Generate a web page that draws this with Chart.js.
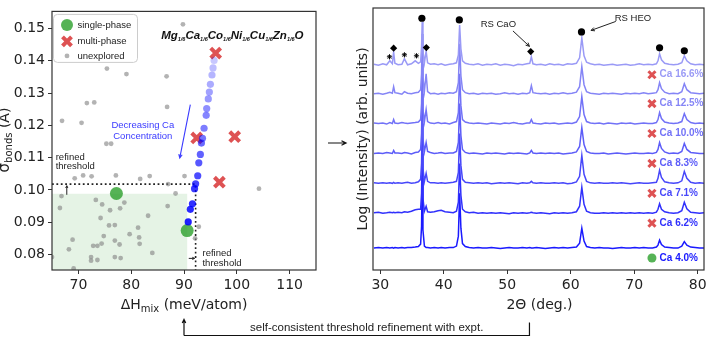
<!DOCTYPE html>
<html>
<head>
<meta charset="utf-8">
<script src="https://cdn.jsdelivr.net/npm/chart.js@4.4.1/dist/chart.umd.min.js"></script>
<style>
  html, body { margin: 0; padding: 0; background: #fff; }
  #wrap { position: relative; width: 720px; height: 349px; }
  canvas { position: absolute; left: 0; top: 0; }
</style>
</head>
<body>
<div id="wrap">
  <canvas id="chart-map" width="720" height="349"></canvas>
  <canvas id="chart-xrd" width="720" height="349"></canvas>
</div>
<script>
// ---------- left panel: enthalpy vs bond-length spread ----------
const unexploredH = [89.8, 75.4, 79.1, 86.7, 71.6, 73.0, 86.8, 66.9, 70.6, 75.3, 76.2, 69.3, 70.9, 72.5,
  77.1, 81.7, 83.5, 87.0, 90.1, 66.8, 88.4, 66.5, 73.3, 74.5, 78.7, 76.0, 77.9, 86.9, 74.2, 83.2,
  75.8, 76.9, 81.3, 79.7, 74.8, 81.5, 68.9, 76.9, 74.4, 72.8, 73.6, 77.8, 81.6, 68.2, 84.0, 65.0,
  72.4, 76.9, 78.0, 72.4, 73.6, 69.1, 104.2, 92.8, 92.1];
const unexploredS = [0.1513, 0.1376, 0.1359, 0.1352, 0.1269, 0.1271, 0.1257, 0.1214, 0.1208, 0.1143, 0.1143, 0.1036, 0.1045, 0.1042,
  0.1045, 0.1034, 0.1043, 0.1018, 0.1043, 0.0981, 0.0989, 0.0944, 0.0969, 0.0955, 0.0961, 0.0937, 0.0943, 0.0950, 0.0913, 0.0920,
  0.0890, 0.0891, 0.0883, 0.0863, 0.0857, 0.0853, 0.0846, 0.0843, 0.0834, 0.0827, 0.0827, 0.0831, 0.0833, 0.0816, 0.0805, 0.0792,
  0.0792, 0.0792, 0.0789, 0.0781, 0.0783, 0.0757, 0.1004, 0.0886, 0.0850];

// Ca series, highest Ca first
const caSeriesH = [95.7, 95.5, 95.3, 95.0, 94.8, 94.6, 94.3, 94.2, 93.8, 93.5, 93.3, 93.1, 92.8, 92.6, 92.2, 92.0, 91.6, 91.2, 90.8];
const caSeriesS = [0.1401, 0.1378, 0.1356, 0.1327, 0.1303, 0.1282, 0.1252, 0.1231, 0.1191, 0.1160, 0.1145, 0.1110, 0.1084, 0.1044, 0.1019, 0.1004, 0.0957, 0.0940, 0.0901];

const multiH = [96.0, 92.4, 99.6, 96.7];
const multiS = [0.1424, 0.1161, 0.1165, 0.1024];
const singleH = [77.2, 90.6];
const singleS = [0.0989, 0.0874];

const xTicksL = [70, 80, 90, 100, 110];
const yTicksL = [0.08, 0.09, 0.10, 0.11, 0.12, 0.13, 0.14, 0.15];
const thresholdH = 92.2, thresholdS = 0.1018;
const zoneH = 90.6, zoneS = 0.0988;

// ---------- right panel: XRD patterns ----------
const twoTheta = [
  29.0, 29.7, 30.4, 31.0, 31.5, 31.9, 32.1, 32.3,
  32.8, 33.4, 33.8, 34.3, 34.9, 35.5, 36.0, 36.35,
  36.5, 36.6, 36.72, 36.95, 37.22, 37.45, 37.9, 38.5,
  39.1, 39.6, 40.2, 40.9, 41.5, 42.0, 42.3, 42.5,
  42.7, 42.95, 43.4, 44.0, 44.7, 45.4, 46.1, 46.8,
  47.5, 48.2, 48.9, 49.6, 50.3, 51.0, 51.7, 52.4,
  53.1, 53.55, 53.8, 54.05, 54.6, 55.3, 56.0, 56.7,
  57.4, 58.1, 58.8, 59.5, 60.2, 60.9, 61.4, 61.75,
  62.1, 62.5, 63.1, 63.8, 64.5, 65.2, 65.9, 66.6,
  67.3, 68.0, 68.7, 69.4, 70.1, 70.8, 71.5, 72.2,
  72.9, 73.5, 73.75, 74.0, 74.3, 74.8, 75.5, 76.2,
  76.9, 77.5, 77.9, 78.3, 78.9, 79.6, 80.3, 81.0
];
const ca166 = [
  0.5, -0.5, 1, 0, 4, 1, 13, 1.5,
  0, 0.5, 6, 0, 1, 4, 1.5, 3,
  18, 43, 14, 2, 14, 2, 0.5, 1,
  0, 1, -0.5, 0.5, 1, 2, 10, 40,
  16, 4, 1.5, 0.5, 0, 1, -0.5, 0.5,
  0, 1, -0.5, 0.5, 0, -1, 0.5, 0,
  1, 1.5, 8, 1, 0, 0.5, -0.5, 1,
  0, 0.5, -0.5, 1, 0.5, 1.5, 7, 27,
  9, 2.5, 1, 0, 0.5, -0.5, 0, 0.5,
  -0.5, 0, 0.5, -0.5, 0, 1, 0, 0.5,
  0, 1, 4, 11, 5, 1.5, 0.5, 0,
  0.5, 2, 9, 4, 1, 0, 0.5, 0
];
const ca125 = [
  0, 0.5, -0.5, 0.5, 1.5, 0.5, 7, 1,
  0.5, -0.5, 2, 0.5, 0, 1, 1.5, 4,
  20, 60, 16, 2.5, 20, 2, 0, 0.5,
  -0.5, 0.5, 0, 1, 0.5, 2, 11, 50,
  18, 4, 1, 0, 0.5, -0.5, 0.5, 0,
  0.5, -0.5, 0, 1, 0, 0.5, -0.5, 0.5,
  0, 1, 8, 1, 0.5, 0, 0.5, -0.5,
  0.5, 0, 1, 0, 0.5, 1.5, 7, 27,
  9, 2, 0.5, 0, -0.5, 0.5, 0, 0.5,
  0, -0.5, 0.5, 0, 0.5, 0, 1, 0,
  0.5, 1, 4, 11, 5, 1.5, 0, 0.5,
  0, 2, 10, 4, 1, 0.5, 0, 0.5
];
const ca100 = [
  0.5, 0, 0.5, -0.5, 1, 0, 4, 0.5,
  0, 1, 0.5, 0, 0.5, 1, 1.5, 4,
  20, 60, 15, 2, 14, 2, 0.5, 0,
  1, 0, 0.5, -0.5, 1, 2, 11, 50,
  18, 4, 1.5, 0.5, 0, 0.5, 0, -0.5,
  0.5, 0, -0.5, 0.5, 0, 1, 0, -0.5,
  0.5, 0.5, 4, 0.5, 0, -0.5, 0.5, 0,
  0.5, -0.5, 0, 0.5, 0, 1.5, 7, 27,
  9, 2, 0.5, 0, 0.5, -0.5, 0.5, 0,
  -0.5, 0.5, 0, 0.5, -0.5, 0, 0.5, 0,
  0, 1, 4, 11, 5, 1.5, 0.5, 0,
  0.5, 2, 10, 4, 1, 0, 0.5, 0
];
const ca83 = [
  0, 0.5, 0, 1, 0.5, 0, 3, 0.5,
  0.5, 0, 1, 0.5, -0.5, 1, 1.5, 4,
  20, 60, 15, 2, 11, 2, 1, 0,
  0.5, 1, 0, 0.5, 0.5, 2, 11, 50,
  18, 4, 1, 0, 0.5, 0, -0.5, 0.5,
  0, 0.5, 0, -0.5, 0.5, 0, 0.5, 0,
  -0.5, 0.5, 3, 0.5, 0, 0.5, 0, 0.5,
  0, 0.5, -0.5, 0, 0.5, 1.5, 7, 26,
  9, 2, 0.5, 0, 0, 0.5, -0.5, 0,
  0.5, 0, -0.5, 0, 0.5, 0, 0, 0.5,
  0, 1, 4, 11, 5, 1.5, 0, 0.5,
  0, 2, 10, 4, 1, 0.5, 0, 0
];
const ca71 = [
  0.5, 0, 0.5, 0, 0.5, 0, 1, 0,
  0.5, 0, 0.5, 1, 0, 0.5, 1.5, 4,
  20, 60, 15, 2, 10, 2, 0.5, 0.5,
  0, 0.5, 0, 0.5, 1, 2, 11, 50,
  18, 4, 1, 0.5, 0, 0.5, 0, 0.5,
  -0.5, 0, 0.5, 0, 0.5, 0, -0.5, 0.5,
  0, 0.5, 2, 0.5, 0, 0.5, 0, 0,
  0.5, 0, 0.5, -0.5, 0, 1.5, 7, 28,
  9, 2, 0.5, 0, 0.5, 0, 0, 0.5,
  0, 0.5, 0, -0.5, 0, 0.5, 0, 0,
  0.5, 1, 5, 13, 6, 1.5, 0.5, 0,
  0.5, 2.5, 12, 5, 1, 0, 0.5, 0
];
const ca62 = [
  0.5, 1, 0, 0.5, 1, 0.5, 1, 0.5,
  1, 0.5, 1.5, 1, 2, 3.5, 4, 4,
  20, 60, 15, 2, 7, 1.5, 1, 1.5,
  2.5, 3, 1.5, 1, 0.5, 2, 11, 50,
  18, 4, 1.5, 0.5, 1, 0, 0.5, 0,
  0.5, 0, 0.5, 0, -0.5, 0.5, 0, 0.5,
  0, 0.5, 1, 0.5, 0, 0.5, 0, -0.5,
  0.5, 0, 0.5, 0, 0.5, 1.5, 7, 26,
  9, 2, 0.5, 0, 0, 0.5, 0, 0.5,
  0, 0.5, 0, 0.5, 0, 0.5, 0, 0.5,
  0, 1, 4, 9.5, 4, 1.5, 0.5, 0,
  0.5, 2.5, 11, 4.5, 1, 0.5, 0, 0.5
];
const ca40 = [
  0, 0.5, 0, 0.5, 0, 0.5, 0, 0.5,
  0, 0.5, 0, 0.5, 0.5, 1, 1.5, 4,
  22, 70, 18, 2, 0.5, 0.5, 0, 0.5,
  0, 0.5, 0, 0.5, 0.5, 2, 12, 55,
  20, 4.5, 1.5, 0.5, 0, 0.5, 0, 0,
  0.5, 0, -0.5, 0, 0.5, 0, 0, 0.5,
  0, 0.5, 0, 0, 0.5, 0, -0.5, 0,
  0.5, 0, 0.5, 0, 0.5, 1, 5, 20,
  7, 1.5, 0.5, 0, 0.5, 0, 0, -0.5,
  0, 0.5, 0, 0, 0.5, 0, 0.5, 0,
  0, 1, 3, 8, 3.5, 1, 0.5, 0,
  0, 2, 6.5, 3, 1, 0.5, 0, 0
];
const patterns = [ca166, ca125, ca100, ca83, ca71, ca62, ca40];
const traceOffsets = [206, 177, 147, 117, 87, 57, 22];
const caLabels = ['Ca 16.6%', 'Ca 12.5%', 'Ca 10.0%', 'Ca 8.3%', 'Ca 7.1%', 'Ca 6.2%', 'Ca 4.0%'];
const xTicksR = [30, 40, 50, 60, 70, 80];

// peak markers above the top pattern
const heoPeakX = [36.55, 42.45, 61.7, 74.0, 77.9];
const heoPeakY = [252.7, 251, 239, 223, 220];
const caoPeakX = [32.1, 37.25, 53.7];
const caoPeakY = [222.7, 223.3, 219.3];
const starPeakX = [31.45, 33.8, 35.7];
const starPeakY = [214, 216, 215];

const traceColors = ['#9a9af6', '#8585f6', '#7272f7', '#5d5df8', '#4747fa', '#3030fc', '#1a1aff'];
const red = 'rgba(214, 39, 40, 0.8)';
const green = 'rgba(44, 160, 44, 0.8)';
const tickFont = { family: 'DejaVu Sans', size: 14 };
const sans = '"Liberation Sans", Arial, sans-serif';
const dejavu = '"DejaVu Sans", sans-serif';

const pts = (xs, ys) => xs.map((v, i) => ({ x: v, y: ys[i] }));

function arrow(ctx, x1, y1, x2, y2, color, head, lw) {
  const ang = Math.atan2(y2 - y1, x2 - x1);
  ctx.strokeStyle = color;
  ctx.lineWidth = lw || 1;
  ctx.setLineDash([]);
  ctx.beginPath();
  ctx.moveTo(x1, y1);
  ctx.lineTo(x2, y2);
  ctx.moveTo(x2 - head * Math.cos(ang - 0.45), y2 - head * Math.sin(ang - 0.45));
  ctx.lineTo(x2, y2);
  ctx.lineTo(x2 - head * Math.cos(ang + 0.45), y2 - head * Math.sin(ang + 0.45));
  ctx.stroke();
}

// text made of pieces [text, font, dy], centred on cx, baseline at by
function richText(ctx, parts, cx, by) {
  let w = 0;
  parts.forEach(p => { ctx.font = p[1]; w += ctx.measureText(p[0]).width; });
  let xx = cx - w / 2;
  ctx.textAlign = 'left';
  ctx.textBaseline = 'alphabetic';
  parts.forEach(p => {
    ctx.font = p[1];
    ctx.fillText(p[0], xx, by + p[2]);
    xx += ctx.measureText(p[0]).width;
  });
}

function axisGrid() {
  return { display: true, drawOnChartArea: false, drawTicks: true, tickLength: 4, tickWidth: 1, tickColor: '#333' };
}

const mapDecor = {
  id: 'mapDecor',
  beforeDatasetsDraw(chart) {
    const { ctx, scales: { x, y }, chartArea: a } = chart;
    ctx.save();
    ctx.fillStyle = 'rgba(44, 160, 44, 0.12)';
    const zx = x.getPixelForValue(zoneH), zy = y.getPixelForValue(zoneS);
    ctx.fillRect(a.left, zy, zx - a.left, a.bottom - zy);

    const tx = x.getPixelForValue(thresholdH), ty = y.getPixelForValue(thresholdS);
    ctx.strokeStyle = '#222';
    ctx.lineWidth = 1.6;
    ctx.setLineDash([1.8, 2.6]);
    ctx.beginPath();
    ctx.moveTo(a.left, ty);
    ctx.lineTo(tx, ty);
    ctx.lineTo(tx, a.bottom);
    ctx.stroke();
    ctx.restore();
  },
  afterDatasetsDraw(chart) {
    const { ctx, scales: { x, y }, chartArea: a } = chart;
    ctx.save();

    // legend
    const lx = a.left + 1.5, ly = a.top + 3;
    ctx.fillStyle = 'rgba(255,255,255,0.85)';
    ctx.strokeStyle = '#cccccc';
    ctx.lineWidth = 1;
    ctx.beginPath();
    ctx.roundRect(lx, ly, 84, 48, 4);
    ctx.fill();
    ctx.stroke();
    ctx.fillStyle = green;
    ctx.beginPath(); ctx.arc(lx + 13.5, ly + 10.5, 6, 0, Math.PI * 2); ctx.fill();
    ctx.strokeStyle = red; ctx.lineWidth = 4;
    ctx.beginPath();
    ctx.moveTo(lx + 9, ly + 22.5); ctx.lineTo(lx + 18, ly + 31.5);
    ctx.moveTo(lx + 18, ly + 22.5); ctx.lineTo(lx + 9, ly + 31.5);
    ctx.stroke();
    ctx.fillStyle = 'rgba(128,128,128,0.6)';
    ctx.beginPath(); ctx.arc(lx + 13.5, ly + 41.5, 2.4, 0, Math.PI * 2); ctx.fill();
    ctx.fillStyle = '#222';
    ctx.font = '9.5px ' + sans;
    ctx.textAlign = 'left';
    ctx.textBaseline = 'middle';
    ctx.fillText('single-phase', lx + 24, ly + 10.5);
    ctx.fillText('multi-phase', lx + 24, ly + 27);
    ctx.fillText('unexplored', lx + 24, ly + 41.5);

    // composition title
    ctx.fillStyle = '#111';
    const big = 'italic bold 11.5px ' + sans, small = 'italic bold 5.5px ' + sans;
    const parts = [];
    ['Mg', 'Ca', 'Co', 'Ni', 'Cu', 'Zn'].forEach(el => { parts.push([el, big, 0]); parts.push(['1/6', small, 2.5]); });
    parts.push(['O', big, 0]);
    richText(ctx, parts, x.getPixelForValue(99.15), y.getPixelForValue(0.1480) + 4);

    // Decreasing Ca annotation
    ctx.fillStyle = '#3a3aff';
    ctx.font = '9.5px ' + sans;
    ctx.textAlign = 'center';
    ctx.textBaseline = 'middle';
    ctx.fillText('Decreasing Ca', x.getPixelForValue(82.2), y.getPixelForValue(0.1199));
    ctx.fillText('Concentration', x.getPixelForValue(82.2), y.getPixelForValue(0.1167));
    arrow(ctx, x.getPixelForValue(91.2), y.getPixelForValue(0.1264), x.getPixelForValue(89.2), y.getPixelForValue(0.1099), '#3a3aff', 4, 1.1);

    // refined threshold notes
    ctx.fillStyle = '#222';
    ctx.textAlign = 'left';
    ctx.fillText('refined', x.getPixelForValue(65.7), y.getPixelForValue(0.1102));
    ctx.fillText('threshold', x.getPixelForValue(65.7), y.getPixelForValue(0.1072));
    ctx.fillText('refined', x.getPixelForValue(93.5), y.getPixelForValue(0.0803));
    ctx.fillText('threshold', x.getPixelForValue(93.5), y.getPixelForValue(0.0774));
    arrow(ctx, x.getPixelForValue(67.8), y.getPixelForValue(0.0985), x.getPixelForValue(67.8), y.getPixelForValue(0.1013), '#222', 2.5, 1);
    arrow(ctx, x.getPixelForValue(90.9), y.getPixelForValue(0.0788), x.getPixelForValue(92.0), y.getPixelForValue(0.0788), '#222', 2.5, 1);

    // frame
    ctx.strokeStyle = '#333';
    ctx.lineWidth = 1.2;
    ctx.strokeRect(a.left, a.top, a.right - a.left, a.bottom - a.top);
    ctx.restore();
  },
  afterDraw(chart) {
    const { ctx, chartArea: a } = chart;
    ctx.save();
    ctx.fillStyle = '#222';
    richText(ctx, [['ΔH', '14px ' + dejavu, 0], ['mix', '10px ' + dejavu, 3], [' (meV/atom)', '14px ' + dejavu, 0]],
      (a.left + a.right) / 2, 309);
    ctx.translate(0, 140);
    ctx.rotate(-Math.PI / 2);
    richText(ctx, [['σ', '15px ' + dejavu, 0], ['bonds', '10px ' + dejavu, 3], [' (Å)', '14px ' + dejavu, 0]], 0, 9);
    ctx.restore();
  }
};

const mapChart = new Chart('chart-map', {
  type: 'scatter',
  data: {
    datasets: [
      {
        label: 'Ca series',
        data: pts(caSeriesH, caSeriesS),
        pointRadius: 3.6,
        pointBorderWidth: 0,
        pointBackgroundColor: c => 'rgba(0,0,255,' + (0.22 + 0.66 * c.dataIndex / (caSeriesH.length - 1)).toFixed(2) + ')'
      },
      {
        label: 'multi-phase',
        data: pts(multiH, multiS),
        pointStyle: 'crossRot',
        pointRadius: 7,
        pointBorderWidth: 4,
        pointBorderColor: red
      },
      {
        label: 'single-phase',
        data: pts(singleH, singleS),
        pointRadius: 6.5,
        pointBorderWidth: 0,
        pointBackgroundColor: green
      },
      {
        label: 'unexplored',
        data: pts(unexploredH, unexploredS),
        pointRadius: 2.4,
        pointBorderWidth: 0,
        pointBackgroundColor: 'rgba(128,128,128,0.6)'
      }
    ]
  },
  options: {
    responsive: false,
    animation: false,
    events: [],
    layout: { padding: { left: 0, right: 404, top: 7, bottom: 49 } },
    plugins: { legend: { display: false }, tooltip: { enabled: false } },
    scales: {
      x: {
        type: 'linear', min: 65, max: 115,
        afterBuildTicks: s => { s.ticks = xTicksL.map(v => ({ value: v })); },
        afterFit: s => { s.height = 30; },
        ticks: { font: tickFont, color: '#222', padding: 3 },
        grid: axisGrid(),
        border: { display: false }
      },
      y: {
        type: 'linear', min: 0.0752, max: 0.1553,
        afterBuildTicks: s => { s.ticks = yTicksL.map(v => ({ value: v })); },
        afterFit: s => { s.width = 52; },
        ticks: { font: tickFont, color: '#222', padding: 3, callback: v => v.toFixed(2) },
        grid: axisGrid(),
        border: { display: false }
      }
    }
  },
  plugins: [mapDecor]
});

const xrdDecor = {
  id: 'xrdDecor',
  afterDatasetsDraw(chart) {
    const { ctx, scales: { x, y }, chartArea: a } = chart;
    ctx.save();
    ctx.font = 'bold 10px ' + sans;
    ctx.textAlign = 'left';
    ctx.textBaseline = 'middle';
    caLabels.forEach((t, i) => {
      ctx.fillStyle = traceColors[i];
      ctx.fillText(t, x.getPixelForValue(74.0), y.getPixelForValue(traceOffsets[i] - 10));
    });

    ctx.fillStyle = '#222';
    ctx.font = '9.5px ' + sans;
    ctx.textAlign = 'center';
    ctx.fillText('RS CaO', x.getPixelForValue(48.6), y.getPixelForValue(246.5));
    ctx.fillText('RS HEO', x.getPixelForValue(69.8), y.getPixelForValue(253));
    arrow(ctx, x.getPixelForValue(50.9), y.getPixelForValue(240), x.getPixelForValue(53.5), y.getPixelForValue(224.5), '#222', 4, 1);
    arrow(ctx, x.getPixelForValue(67.1), y.getPixelForValue(249.5), x.getPixelForValue(63.2), y.getPixelForValue(240.5), '#222', 4, 1);

    ctx.strokeStyle = '#333';
    ctx.lineWidth = 1.2;
    ctx.strokeRect(a.left, a.top, a.right - a.left, a.bottom - a.top);
    ctx.restore();
  },
  afterDraw(chart) {
    const { ctx, scales: { x }, chartArea: a } = chart;
    ctx.save();
    ctx.fillStyle = '#222';
    richText(ctx, [['2Θ (deg.)', '14px ' + dejavu, 0]], (a.left + a.right) / 2 + 1, 309);
    ctx.save();
    ctx.translate(a.left - 6, (a.top + a.bottom) / 2);
    ctx.rotate(-Math.PI / 2);
    richText(ctx, [['Log (Intensity) (arb. units)', '14px ' + dejavu, 0]], 0, 0);
    ctx.restore();

    // arrow between the panels
    arrow(ctx, 328, 143, 346, 143, '#111', 5, 1.2);

    // feedback bracket under both panels
    const lx = mapChart.scales.x.getPixelForValue(90);
    const rx = x.getPixelForValue(53.5);
    ctx.strokeStyle = '#111';
    ctx.lineWidth = 1.2;
    ctx.beginPath();
    ctx.moveTo(rx, 322.5);
    ctx.lineTo(rx, 335.5);
    ctx.lineTo(lx, 335.5);
    ctx.stroke();
    arrow(ctx, lx, 335.5, lx, 319.5, '#111', 4, 1.2);
    ctx.fillStyle = '#222';
    ctx.font = '11.5px ' + sans;
    ctx.textAlign = 'center';
    ctx.textBaseline = 'middle';
    ctx.fillText('self-consistent threshold refinement with expt.', (lx + rx) / 2 + 10, 327.5);
    ctx.restore();
  }
};

const traceSets = patterns.map((p, i) => ({
  label: caLabels[i],
  data: twoTheta.map((t, j) => ({ x: t, y: traceOffsets[i] + p[j] })),
  showLine: true,
  pointRadius: 0,
  borderWidth: 1.5,
  borderColor: traceColors[i],
  tension: 0
}));

new Chart('chart-xrd', {
  type: 'scatter',
  data: {
    datasets: [
      {
        label: 'multi marks',
        data: traceOffsets.slice(0, 6).map(o => ({ x: 72.8, y: o - 10 })),
        pointStyle: 'crossRot', pointRadius: 5, pointBorderWidth: 3, pointBorderColor: red
      },
      {
        label: 'single mark',
        data: [{ x: 72.8, y: traceOffsets[6] - 10 }],
        pointRadius: 4.5, pointBorderWidth: 0, pointBackgroundColor: green
      },
      {
        label: 'RS HEO',
        data: pts(heoPeakX, heoPeakY),
        pointRadius: 3.6, pointBorderWidth: 0, pointBackgroundColor: '#000'
      },
      {
        label: 'RS CaO',
        data: pts(caoPeakX, caoPeakY),
        pointStyle: 'rectRot', pointRadius: 3.6, pointBorderWidth: 0, pointBackgroundColor: '#000'
      },
      {
        label: 'other',
        data: pts(starPeakX, starPeakY),
        pointStyle: 'star', pointRadius: 2.6, pointBorderWidth: 1, pointBorderColor: '#000'
      },
      ...traceSets
    ]
  },
  options: {
    responsive: false,
    animation: false,
    events: [],
    layout: { padding: { left: 373, right: 16, top: 7, bottom: 49 } },
    plugins: { legend: { display: false }, tooltip: { enabled: false } },
    scales: {
      x: {
        type: 'linear', min: 28.85, max: 81,
        afterBuildTicks: s => { s.ticks = xTicksR.map(v => ({ value: v })); },
        afterFit: s => { s.height = 30; },
        ticks: { font: tickFont, color: '#222', padding: 3 },
        grid: axisGrid(),
        border: { display: false }
      },
      y: { type: 'linear', min: 0, max: 263, display: false }
    }
  },
  plugins: [xrdDecor]
});
</script>
</body>
</html>
